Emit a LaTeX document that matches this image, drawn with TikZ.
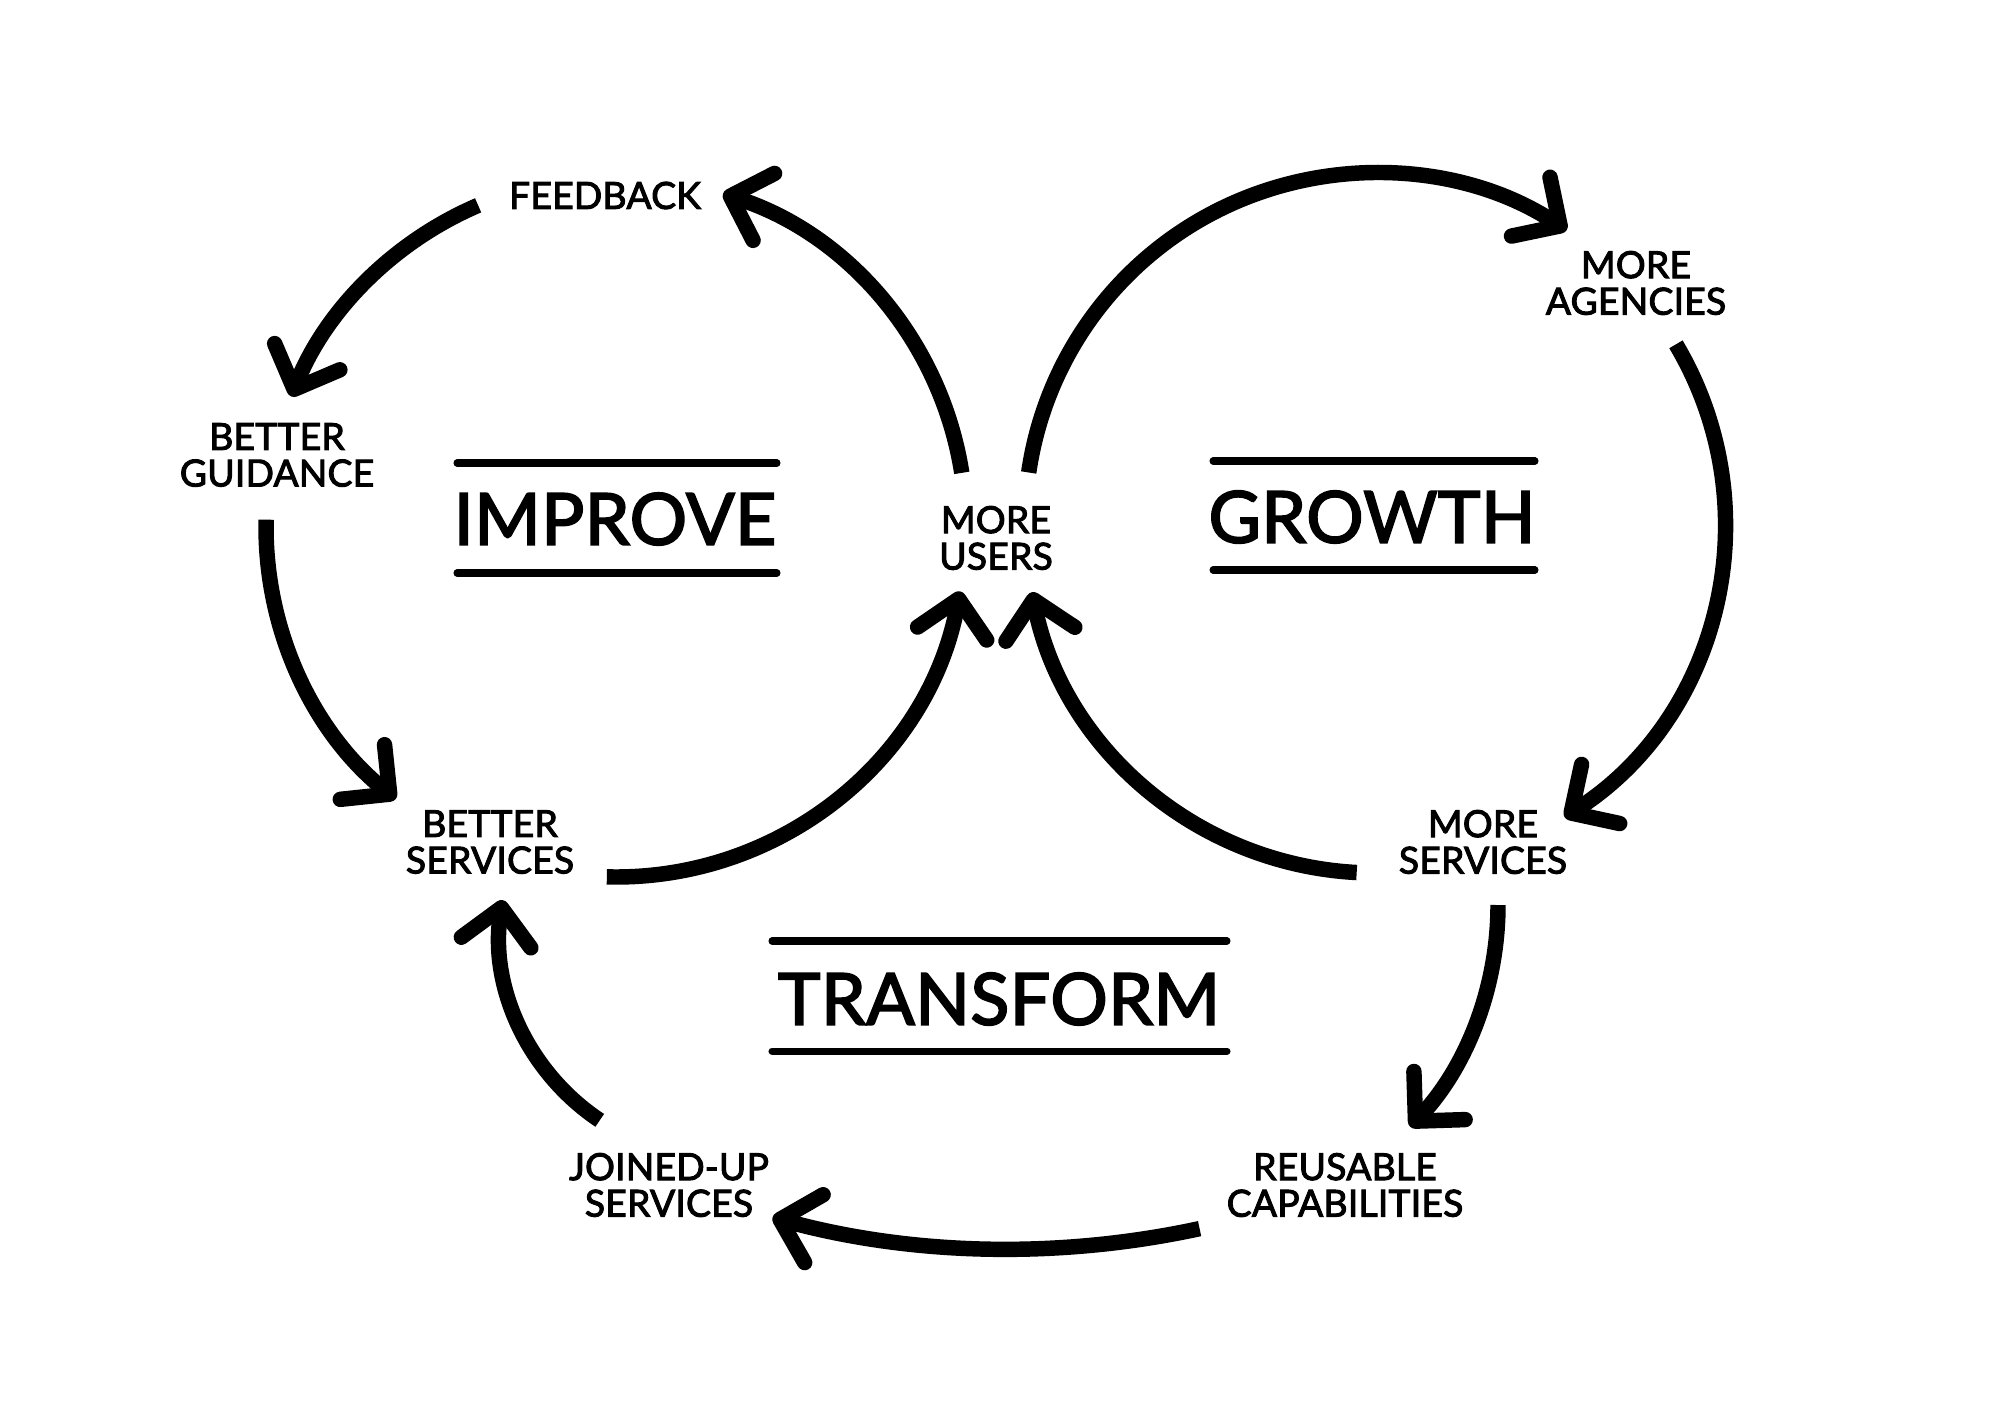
\documentclass[tikz,border=0pt]{standalone}
\usepackage{fontspec}
\setmainfont{Lato}[FakeBold=2.6, LetterSpace=0.6]
\usetikzlibrary{arrows.meta,calc}
\begin{document}
\begin{tikzpicture}[
  lbl/.style={font=\fontsize{10.6}{10.4}\selectfont, align=center, inner sep=0pt},
  ttl/.style={font=\fontsize{20.4}{20}\selectfont, inner sep=0pt},
  flow/.style={line width=4.4pt, line cap=butt, -{Straight Barb[length=10pt,width=20pt,round]}},
  rulel/.style={line width=2pt, line cap=round}
]
\useasboundingbox[fill=white] (0,0) rectangle (20,-14.14);

% labels
\node[lbl] (feedback) at (6.05,-1.955) {FEEDBACK};
\node[lbl] (guidance) at (2.77,-4.55) {BETTER\\GUIDANCE};
\node[lbl] (users) at (9.96,-5.38) {MORE\\USERS};
\node[lbl] (agencies) at (16.36,-2.83) {MORE\\AGENCIES};
\node[lbl] (bservices) at (4.90,-8.42) {BETTER\\SERVICES};
\node[lbl] (mservices) at (14.83,-8.42) {MORE\\SERVICES};
\node[lbl] (reusable) at (13.45,-11.85) {REUSABLE\\CAPABILITIES};
\node[lbl] (joined) at (6.69,-11.85) {JOINED-UP\\SERVICES};

% titles
\node[ttl] (improve) at (6.15,-5.19) {IMPROVE};
\node[ttl] (growth) at (13.72,-5.17) {GROWTH};
\node[ttl] (transform) at (9.99,-9.99) {TRANSFORM};

\draw[rulel] ($(improve)+(-1.58,0.56)$) -- ++(3.2,0);
\draw[rulel] ($(improve)+(-1.58,-0.54)$) -- ++(3.2,0);
\draw[rulel] ($(growth)+(-1.59,0.56)$) -- ++(3.22,0);
\draw[rulel] ($(growth)+(-1.59,-0.53)$) -- ++(3.22,0);
\draw[rulel] ($(transform)+(-2.27,0.58)$) -- ++(4.55,0);
\draw[rulel] ($(transform)+(-2.27,-0.52)$) -- ++(4.55,0);

% loop centres
\coordinate (L) at (6.16,-5.27);
\coordinate (R) at (13.75,-5.23);
\coordinate (B1) at (11.74,-9.05);
\coordinate (B2) at (10.09,-3.47);
\coordinate (B3) at (7.24,-9.34);

% IMPROVE loop
\coordinate (usersToFeedback) at ($(L)+(8.9:3.5)$);
\draw[flow] (usersToFeedback) arc[start angle=8.9, end angle=72.2, radius=3.5];
\coordinate (feedbackToGuidance) at ($(L)+(113.2:3.5)$);
\draw[flow] (feedbackToGuidance) arc[start angle=113.2, end angle=158.1, radius=3.5];
\coordinate (guidanceToBetter) at ($(L)+(178.8:3.5)$);
\draw[flow] (guidanceToBetter) arc[start angle=178.8, end angle=231.0, radius=3.5];
\coordinate (betterToUsers) at ($(L)+(268.5:3.5)$);
\draw[flow] (betterToUsers) arc[start angle=268.5, end angle=349.4, radius=3.5];

% GROWTH loop
\coordinate (usersToAgencies) at ($(R)+(171.7:3.5)$);
\draw[flow] (usersToAgencies) arc[start angle=171.7, end angle=56.8, radius=3.5];
\coordinate (agenciesToMore) at ($(R)+(30.7:3.5)$);
\draw[flow] (agenciesToMore) arc[start angle=30.7, end angle=-57.2, radius=3.5];
\coordinate (moreToUsers) at ($(R)+(267.0:3.5)$);
\draw[flow] (moreToUsers) arc[start angle=267.0, end angle=191.4, radius=3.5];

% TRANSFORM loop
\coordinate (moreToReusable) at ($(B1)+(0:3.24)$);
\draw[flow] (moreToReusable) arc[start angle=0, end angle=-43.2, radius=3.24];
\coordinate (reusableToJoined) at ($(B2)+(282.2:9.02)$);
\draw[flow] (reusableToJoined) arc[start angle=282.2, end angle=254.8, radius=9.02];
\coordinate (joinedToBetter) at ($(B3)+(236.3:2.24)$);
\draw[flow] (joinedToBetter) arc[start angle=236.3, end angle=171.3, radius=2.24];
\end{tikzpicture}
\end{document}
